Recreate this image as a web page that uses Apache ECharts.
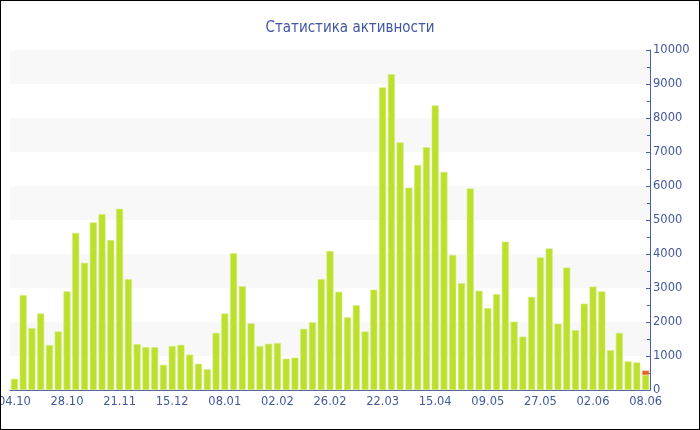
<!DOCTYPE html>
<html>
<head>
<meta charset="utf-8">
<script src="https://cdn.jsdelivr.net/npm/echarts@6/dist/echarts.min.js"></script>
<style>
html,body{margin:0;padding:0;background:#fff;}
#wrap{width:698px;height:428px;border:1px solid #000;}
#chart{width:698px;height:428px;}
</style>
</head>
<body>
<div id="wrap"><div id="chart"></div></div>
<script>
const categories = [
 '04.10','08.10','12.10','16.10','20.10','24.10',
 '28.10','01.11','05.11','09.11','13.11','17.11',
 '21.11','25.11','29.11','03.12','07.12','11.12',
 '15.12','19.12','23.12','27.12','31.12','04.01',
 '08.01','12.01','16.01','20.01','25.01','29.01',
 '02.02','06.02','10.02','14.02','18.02','22.02',
 '26.02','02.03','06.03','10.03','14.03','18.03',
 '22.03','26.03','30.03','03.04','07.04','11.04',
 '15.04','19.04','23.04','27.04','01.05','05.05',
 '09.05','12.05','15.05','18.05','21.05','24.05',
 '27.05','28.05','29.05','30.05','31.05','01.06',
 '02.06','03.06','04.06','05.06','06.06','07.06',
 '08.06'
];
const mainValues = [
 330,2790,1820,2250,1320,1720,
 2900,4620,3740,4930,5170,4410,
 5330,3260,1350,1260,1260,740,
 1290,1330,1040,770,610,1680,
 2250,4020,3050,1960,1290,1360,
 1380,920,950,1800,1990,3260,
 4090,2890,2140,2490,1720,2950,
 8900,9290,7280,5950,6620,7140,
 8370,6410,3970,3140,5930,2920,
 2410,2820,4360,2010,1570,2740,
 3900,4160,1950,3600,1760,2540,
 3040,2900,1170,1680,840,810,
 440
];
const extraValues = [
 null,null,null,null,null,null,null,null,null,null,null,null,
 null,null,null,null,null,null,null,null,null,null,null,null,
 null,null,null,null,null,null,null,null,null,null,null,null,
 null,null,null,null,null,null,null,null,null,null,null,null,
 null,null,null,null,null,null,null,null,null,null,null,null,
 null,null,null,null,null,null,null,null,null,null,null,null,
 130
];
const titleText = 'Статистика активности';

const chart = echarts.init(document.getElementById('chart'), null, {renderer:'canvas'});
const axisColor = '#4a5ea8';
const labelColor = '#44589f';
chart.setOption({
  animation:false,
  backgroundColor:'#fff',
  title:{
    text:titleText, left:'center', top:15,
    textStyle:{fontFamily:'DejaVu Sans Condensed, DejaVu Sans', fontSize:15, fontWeight:'normal', color:'#4056a3'}
  },
  grid:{left:9, right:49, top:49, bottom:39, containLabel:false, outerBoundsMode:'none'},
  xAxis:{
    type:'category', data:categories, boundaryGap:true,
    axisLine:{lineStyle:{color:axisColor, width:1}},
    axisTick:{alignWithLabel:true, interval:5, length:4, lineStyle:{color:'#888'}},
    axisLabel:{interval:5, color:labelColor, fontFamily:'DejaVu Sans', fontSize:11.5, margin:6, hideOverlap:false},
    splitLine:{show:false}
  },
  yAxis:{
    type:'value', position:'right', min:0, max:10000, interval:1000,
    axisLine:{show:true, lineStyle:{color:axisColor, width:1}},
    axisTick:{show:true, inside:true, length:4, lineStyle:{color:axisColor}},
    minorTick:{show:true, splitNumber:2, length:3, lineStyle:{color:axisColor}},
    axisLabel:{color:labelColor, fontFamily:'DejaVu Sans', fontSize:11.5, margin:3,
      formatter:function(v){return String(v);}},
    splitLine:{show:false},
    splitArea:{show:true, areaStyle:{color:['rgba(255,255,255,0)','#f8f8f8']}}
  },
  series:[
    {type:'bar', stack:'a', data:mainValues, barCategoryGap:'20%',
     itemStyle:{color:'#bde02f', borderColor:'#d3ec78', borderWidth:0.6}},
    {type:'bar', stack:'a', data:extraValues, barCategoryGap:'20%',
     itemStyle:{color:'#e5612b', borderColor:'#ec8a5e', borderWidth:0.6}}
  ]
});
</script>
</body>
</html>
